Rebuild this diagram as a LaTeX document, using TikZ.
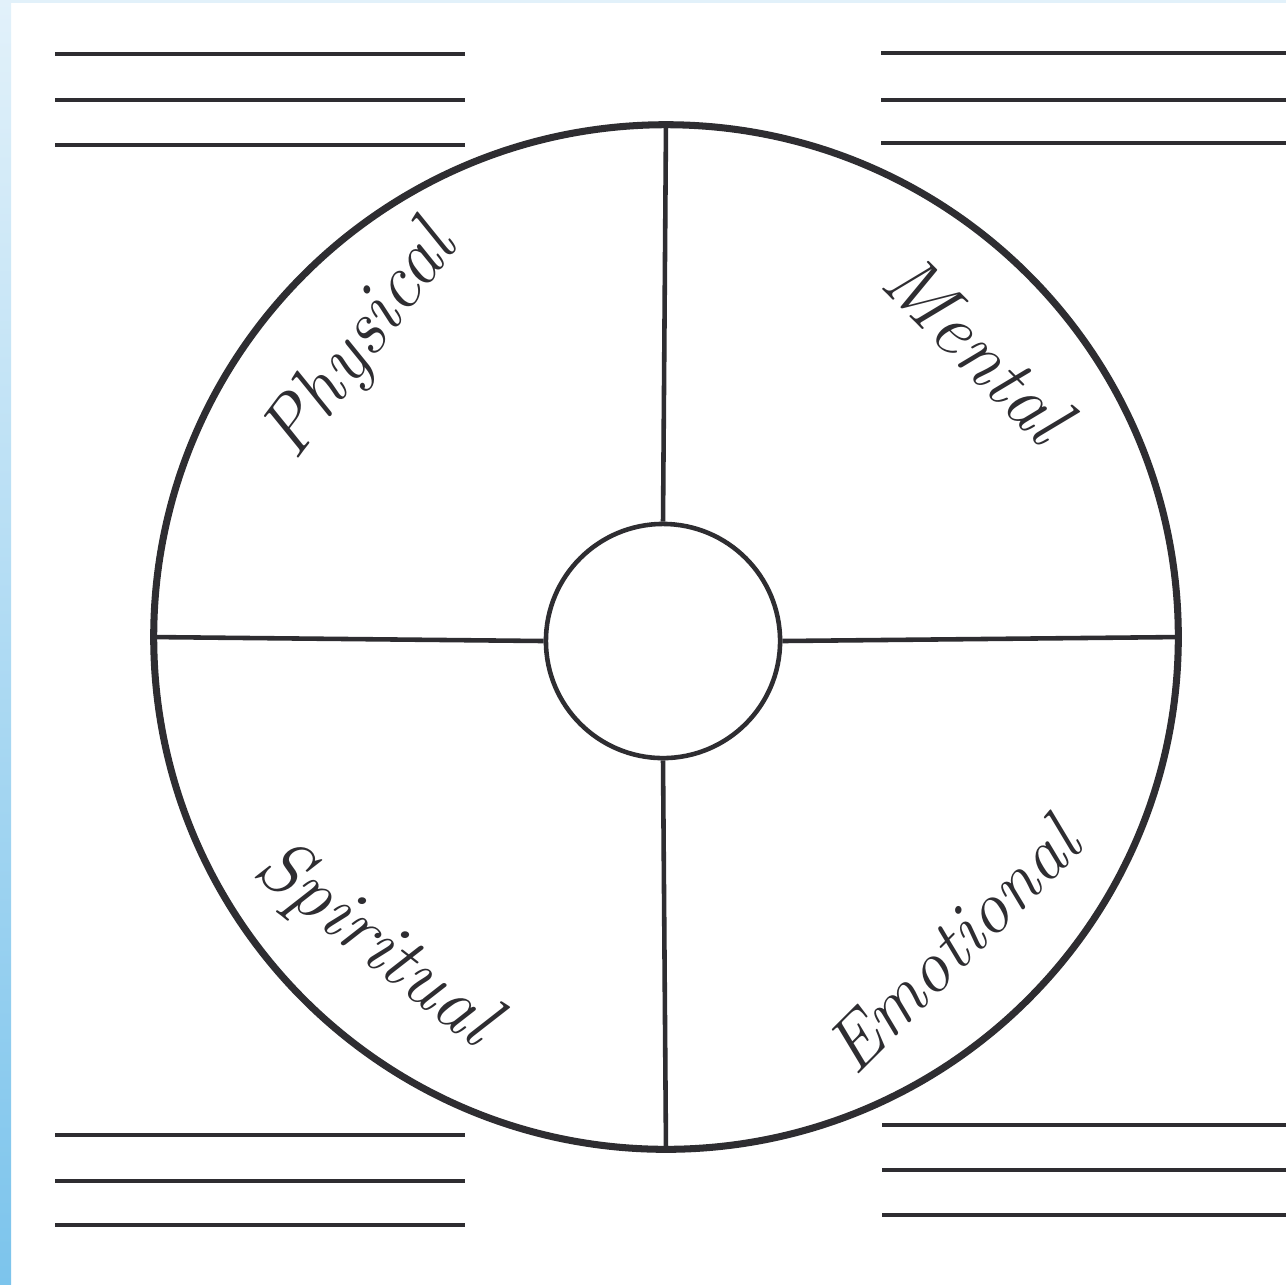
\documentclass[tikz,border=0pt]{standalone}
\usetikzlibrary{positioning}
\definecolor{ink}{HTML}{2E2D31}
\definecolor{edgeblue}{HTML}{7CC4EC}
\definecolor{paleblue}{HTML}{E2F1FA}
\begin{document}
\begin{tikzpicture}[x=0.01cm, y=-0.01cm]
\tikzset{
    ring/.style={circle, draw=ink, line width=2pt, minimum size=10.24cm, inner sep=0pt},
    hub/.style={circle, draw=ink, line width=1.3pt, minimum size=2.34cm, inner sep=0pt},
    spoke/.style={draw=ink, line width=1.3pt},
    writeline/.style={draw=ink, line width=0.9pt},
    quarter/.style={font=\fontsize{22}{26}\selectfont\itshape, text=ink}
}
\useasboundingbox (0,0) rectangle (1286,1284);
\fill[white] (0,0) rectangle (1286,1284);

% blue page edge
\fill[paleblue] (0,0) rectangle (1286,3);
\shade[top color=paleblue, bottom color=edgeblue] (0,0) rectangle (11,1284);

% lines for writing
\foreach \y in {54,100,145} \draw[writeline] (55,\y) -- (465,\y);
\foreach \y in {53,100,143} \draw[writeline] (881,\y) -- (1286,\y);
\foreach \y in {1135,1181,1225} \draw[writeline] (55,\y) -- (465,\y);
\foreach \y in {1125,1170,1215} \draw[writeline] (882,\y) -- (1286,\y);

% wheel
\node[ring] (wheel) at (666,637) {};
\node[hub] (centre) at (663,641) {};
\draw[spoke] (centre.north) -- (wheel.north);
\draw[spoke] (centre.south) -- (wheel.south);
\draw[spoke] (centre.west) -- (wheel.west);
\draw[spoke] (centre.east) -- (wheel.east);

% quarter names
\node[quarter, rotate=53] (physical) at (362,343) {Physical};
\node[quarter, rotate=-45] (mental) at (978,348) {Mental};
\node[quarter, rotate=-38] (spiritual) at (375,945) {Spiritual};
\node[quarter, rotate=45, font=\fontsize{21}{25}\selectfont\itshape] (emotional) at (952,945) {Emotional};
\end{tikzpicture}
\end{document}
